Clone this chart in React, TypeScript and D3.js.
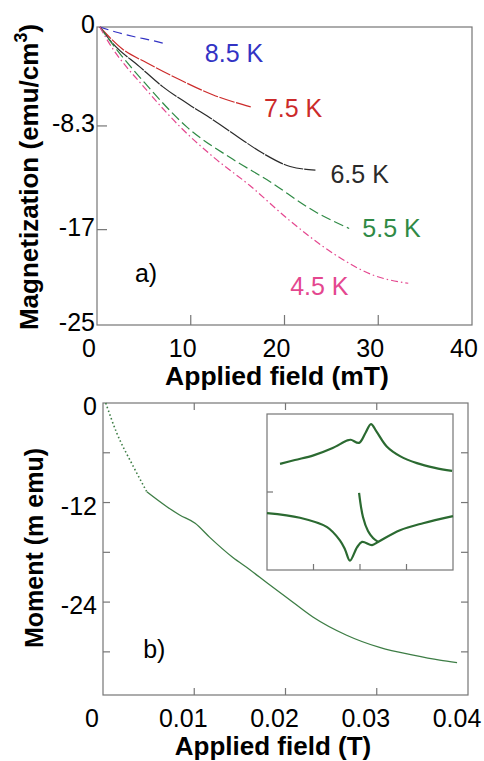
import React, { useEffect, useRef } from 'react';
import * as d3 from 'd3';

// ---- panel a) magnetization vs applied field (mT)
const fieldTicksA = [0, 10, 20, 30, 40];
const magTicks = [0, -8.3, -17, -25];
const magTickLabels = ['0', '-8.3', '-17', '-25'];

const temps = ['8.5 K', '7.5 K', '6.5 K', '5.5 K', '4.5 K'];
const field85 = [0.3, 2, 4, 6, 7.5];
const mag85 = [0, -0.42, -0.82, -1.15, -1.45];
const field75 = [0.3, 2.8, 5.3, 8.9, 12.4, 16.4];
const mag75 = [0, -1.9, -3.0, -4.45, -5.7, -6.7];
const field65 = [0.3, 1.7, 4.5, 7, 9.8, 12.4, 15, 17.7, 20.6, 23.3];
const mag65 = [0, -1.4, -3.3, -5.0, -6.5, -7.8, -9.2, -10.6, -11.7, -12.0];
const field55 = [0.3, 2.1, 5, 9.6, 14.5, 18.1, 23.5, 26.9];
const mag55 = [0, -1.9, -4.6, -8.4, -11.1, -12.8, -15.6, -16.9];
const field45 = [0.3, 1.1, 5.3, 8.9, 12.4, 16.3, 20.5, 25.2, 29.4, 33.2];
const mag45 = [0, -1.1, -5.3, -8.4, -10.9, -13.3, -16.2, -19.0, -20.8, -21.5];

// ---- panel b) moment vs applied field (T)
const fieldTicksB = [0, 0.01, 0.02, 0.03, 0.04];
const fieldTickLabelsB = ['0', '0.01', '0.02', '0.03', '0.04'];
const momentTicks = [0, -12, -24];
const momentMinorTicks = [-6, -18, -30];
const fieldB = [0.0003, 0.0015, 0.0033, 0.0048, 0.0070, 0.0084, 0.0101, 0.0117, 0.0142, 0.0161, 0.018, 0.0202, 0.0230, 0.0267, 0.0304, 0.034, 0.0369, 0.0388];
const momentB = [0, -3.6, -7.6, -10.7, -12.5, -13.5, -14.5, -16.2, -18.6, -20.1, -21.7, -23.5, -25.8, -28.0, -29.5, -30.4, -31.0, -31.3];

// inset loop (arbitrary units)
const insetUpperX = [-43, -35, -25, -15, -7, -5, -0.5, 3, 5.9, 9, 14.5, 21.5, 30.6, 40.3, 49.5];
const insetUpperY = [0.36, 0.41, 0.47, 0.56, 0.66, 0.67, 0.63, 0.76, 0.87, 0.77, 0.58, 0.46, 0.37, 0.31, 0.27];
const insetLowerX = [-50, -32.3, -17.7, -10.8, -8, -5.4, -1.6, 1.1, 6.5, 9.7, 21.5, 33.9, 50];
const insetLowerY = [-0.27, -0.33, -0.45, -0.62, -0.74, -0.88, -0.71, -0.64, -0.68, -0.64, -0.49, -0.40, -0.31];
const insetBranchX = [-0.5, 1.6, 4.3, 7, 9.7];
const insetBranchY = [-0.01, -0.32, -0.5, -0.59, -0.64];

const FONT = '"Liberation Sans", Arial, Helvetica, sans-serif';
const FRAME = '#767676';

function App() {
    const ref = useRef<SVGSVGElement>(null);

    useEffect(() => {
        const svg = d3.select(ref.current);
        svg.selectAll('*').remove();

        const frame = (g: any, x0: number, x1: number, y0: number, y1: number) => {
            g.append('rect')
                .attr('x', x0).attr('y', y0)
                .attr('width', x1 - x0).attr('height', y1 - y0)
                .attr('fill', 'none')
                .attr('stroke', FRAME)
                .attr('stroke-width', 1.2);
        };
        const tick = (g: any, x1: number, y1: number, x2: number, y2: number) => {
            g.append('line')
                .attr('x1', x1).attr('y1', y1).attr('x2', x2).attr('y2', y2)
                .attr('stroke', FRAME).attr('stroke-width', 1.2);
        };

        // ================= panel a =================
        const xA = d3.scaleLinear().domain([0, 40]).range([97, 472]);
        const yA = d3.scaleLinear().domain([-25, 0]).range([325, 27]);
        const a = svg.append('g');
        frame(a, xA(0), xA(40), yA(0), yA(-25));

        fieldTicksA.slice(1, 4).forEach((t) => tick(a, xA(t), yA(-25), xA(t), yA(-25) - 10));
        magTicks.slice(1, 3).forEach((t) => tick(a, xA(0), yA(t), xA(0) + 10, yA(t)));

        a.selectAll('.xl').data(fieldTicksA).enter().append('text')
            .attr('x', (d) => xA(d) - 8).attr('y', 357)
            .attr('text-anchor', 'middle')
            .style('font-size', '25px').style('font-family', FONT)
            .text((d) => String(d));
        a.selectAll('.yl').data(magTicks).enter().append('text')
            .attr('x', 95).attr('y', (d) => yA(d) + 6)
            .attr('text-anchor', 'end')
            .style('font-size', '25px').style('font-family', FONT)
            .text((d, i) => magTickLabels[i]);

        const seriesA = [
            { xs: field85, ys: mag85, color: '#3333c4', dash: '9,5' },
            { xs: field75, ys: mag75, color: '#cc2a2a', dash: '16,1.5' },
            { xs: field65, ys: mag65, color: '#2a2a2a', dash: '20,1' },
            { xs: field55, ys: mag55, color: '#2f8a45', dash: '10,4' },
            { xs: field45, ys: mag45, color: '#e4478f', dash: '7,3,1.5,3' },
        ];
        const labelPos = [[11.5, -2.94], [17.8, -7.55], [24.9, -13.1], [28.3, -17.6], [20.6, -22.5]];
        const lineA = d3.line<[number, number]>()
            .x((d) => xA(d[0])).y((d) => yA(d[1]))
            .curve(d3.curveMonotoneX);
        seriesA.forEach((s, i) => {
            const pts = s.xs.map((x, j) => [x, s.ys[j]] as [number, number]);
            a.append('path')
                .attr('d', lineA(pts))
                .attr('fill', 'none')
                .attr('stroke', s.color)
                .attr('stroke-width', 1.2)
                .attr('stroke-dasharray', s.dash);
            a.append('text')
                .attr('x', xA(labelPos[i][0])).attr('y', yA(labelPos[i][1]))
                .attr('fill', s.color)
                .style('font-size', '25px').style('font-family', FONT)
                .text(temps[i]);
        });
        a.append('text')
            .attr('x', xA(4.05)).attr('y', yA(-21.4))
            .style('font-size', '25px').style('font-family', FONT)
            .text('a)');

        a.append('text')
            .attr('x', 277).attr('y', 385)
            .attr('text-anchor', 'middle')
            .style('font-size', '26.5px').style('font-weight', 'bold').style('font-family', FONT)
            .text('Applied field (mT)');
        const ya = a.append('text')
            .attr('transform', 'translate(38,177) rotate(-90)')
            .attr('text-anchor', 'middle')
            .style('font-size', '26px').style('font-weight', 'bold').style('font-family', FONT);
        ya.append('tspan').text('Magnetization (emu/cm');
        ya.append('tspan').attr('dy', -11).style('font-size', '18px').text('3');
        ya.append('tspan').attr('dy', 11).text(')');

        // ================= panel b =================
        const xB = d3.scaleLinear().domain([0, 0.04]).range([103, 468]);
        const yB = d3.scaleLinear().domain([-35.2, 0]).range([695, 403]);
        const b = svg.append('g');
        frame(b, xB(0), xB(0.04), yB(0), yB(-35.2));

        fieldTicksB.slice(1, 4).forEach((t) => {
            tick(b, xB(t), yB(-35.2), xB(t), yB(-35.2) - 7);
            tick(b, xB(t), yB(0), xB(t), yB(0) + 7);
        });
        momentTicks.slice(1).concat(momentMinorTicks).forEach((t) => {
            tick(b, xB(0), yB(t), xB(0) + 7, yB(t));
            tick(b, xB(0.04), yB(t), xB(0.04) - 7, yB(t));
        });

        b.selectAll('.xl').data(fieldTicksB).enter().append('text')
            .attr('x', (d) => xB(d) - 11).attr('y', 727)
            .attr('text-anchor', 'middle')
            .style('font-size', '25px').style('font-family', FONT)
            .text((d, i) => fieldTickLabelsB[i]);
        b.selectAll('.yl').data(momentTicks).enter().append('text')
            .attr('x', 97).attr('y', (d) => yB(d) + 12)
            .attr('text-anchor', 'end')
            .style('font-size', '25px').style('font-family', FONT)
            .text((d) => String(d));

        const lineB = d3.line<[number, number]>()
            .x((d) => xB(d[0])).y((d) => yB(d[1]))
            .curve(d3.curveMonotoneX);
        const ptsB = fieldB.map((x, j) => [x, momentB[j]] as [number, number]);
        b.append('path')
            .attr('d', lineB(ptsB.filter((p) => p[0] <= 0.0048)))
            .attr('fill', 'none').attr('stroke', '#3d7d45')
            .attr('stroke-width', 1.6).attr('stroke-dasharray', '1.5,2.5');
        b.append('path')
            .attr('d', lineB(ptsB.filter((p) => p[0] >= 0.0048)))
            .attr('fill', 'none').attr('stroke', '#3d7d45')
            .attr('stroke-width', 1.3);

        b.append('text')
            .attr('x', xB(0.0044)).attr('y', yB(-30.7))
            .style('font-size', '25px').style('font-family', FONT)
            .text('b)');
        b.append('text')
            .attr('x', 273).attr('y', 755)
            .attr('text-anchor', 'middle')
            .style('font-size', '26px').style('font-weight', 'bold').style('font-family', FONT)
            .text('Applied field (T)');
        b.append('text')
            .attr('transform', 'translate(43,548) rotate(-90)')
            .attr('text-anchor', 'middle')
            .style('font-size', '25px').style('font-weight', 'bold').style('font-family', FONT)
            .text('Moment (m emu)');

        // ---- inset
        const xI = d3.scaleLinear().domain([-50, 50]).range([267, 453]);
        const yI = d3.scaleLinear().domain([-1, 1]).range([570, 414]);
        const inset = svg.append('g');
        inset.append('rect')
            .attr('x', 267).attr('y', 414).attr('width', 186).attr('height', 156)
            .attr('fill', 'white');
        frame(inset, xI(-50), xI(50), yI(1), yI(-1));
        [-25, 0, 25].forEach((t) => tick(inset, xI(t), yI(-1), xI(t), yI(-1) - 6));
        tick(inset, xI(-50), yI(0), xI(-50) + 6, yI(0));

        const lineI = d3.line<[number, number]>()
            .x((d) => xI(d[0])).y((d) => yI(d[1]))
            .curve(d3.curveCatmullRom.alpha(0.5));
        [[insetUpperX, insetUpperY], [insetLowerX, insetLowerY], [insetBranchX, insetBranchY]].forEach(([xs, ys]) => {
            inset.append('path')
                .attr('d', lineI(xs.map((x, j) => [x, ys[j]] as [number, number])))
                .attr('fill', 'none')
                .attr('stroke', '#2b6a31')
                .attr('stroke-width', 2.2);
        });
    }, []);

    return (
        <svg
            ref={ref}
            width={484}
            height={761}
            style={{ position: 'absolute', left: 0, top: 0, background: 'white' }}
        />
    );
}

export default App;
